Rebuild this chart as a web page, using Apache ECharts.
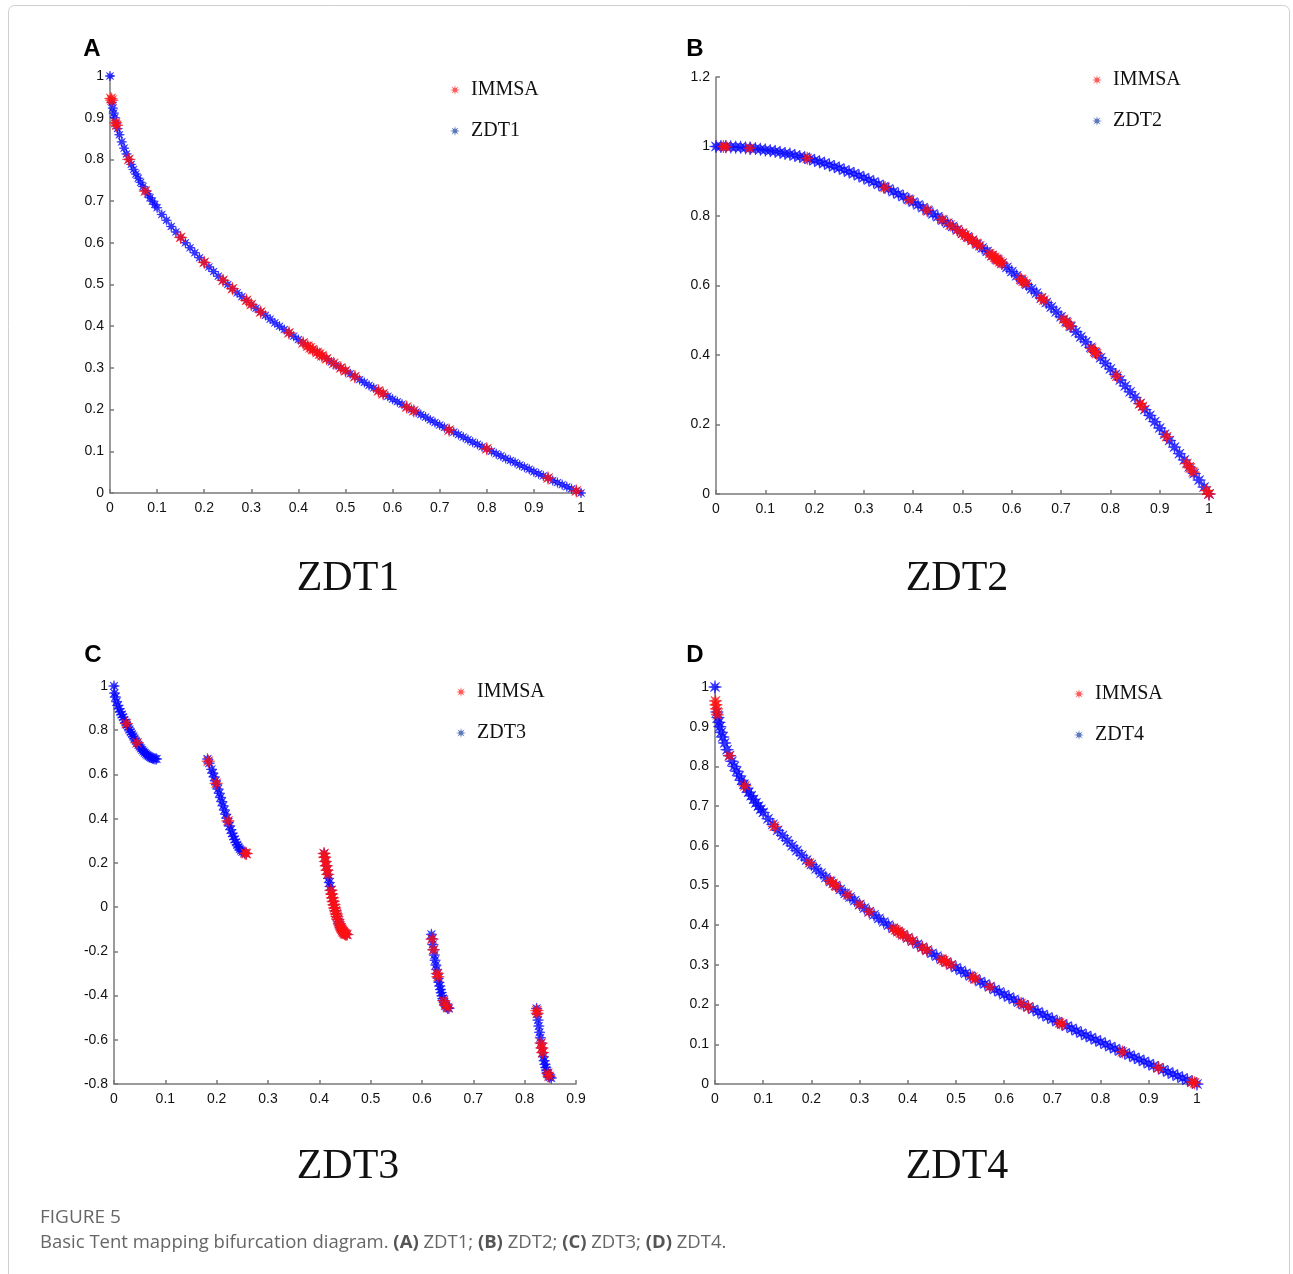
<!DOCTYPE html>
<html>
<head>
<meta charset="utf-8">
<script src="https://cdn.jsdelivr.net/npm/echarts@6/dist/echarts.min.js"></script>
<style>
html,body{margin:0;padding:0;background:#fff;}
#chart{width:1293px;height:1274px;}
</style>
</head>
<body>
<div id="chart"></div>
<script>
// ---------------- DATA ----------------
const panelLetters = ['A', 'B', 'C', 'D'];
const panelTitles = ['ZDT1', 'ZDT2', 'ZDT3', 'ZDT4'];
const legendNames = ['IMMSA', 'ZDT1', 'ZDT2', 'ZDT3', 'ZDT4'];
const captionTitle = 'FIGURE 5';

// x/y axis ranges and tick steps per panel
const xMax = [1, 1, 0.9, 1];
const yMin = [0, 0, -0.8, 0];
const yMax = [1, 1.2, 1, 1];
const yStep = [0.1, 0.2, 0.2, 0.1];

// ZDT1: true Pareto front (blue) and IMMSA solutions (red)
const zdt1Front = [[0,1],[0.004,0.937],[0.006,0.923],[0.008,0.911],[0.01,0.9],[0.013,0.886],[0.016,0.874],[0.02,0.859],[0.025,0.842],[0.03,0.827],[0.035,0.813],[0.04,0.8],[0.045,0.788],[0.05,0.776],[0.055,0.765],[0.06,0.755],[0.065,0.745],[0.07,0.735],[0.075,0.726],[0.08,0.717],[0.085,0.708],[0.09,0.7],[0.095,0.692],[0.1,0.684],[0.11,0.668],[0.12,0.654],[0.13,0.639],[0.14,0.626],[0.15,0.613],[0.16,0.6],[0.17,0.588],[0.18,0.576],[0.19,0.564],[0.2,0.553],[0.21,0.542],[0.22,0.531],[0.23,0.52],[0.24,0.51],[0.25,0.5],[0.26,0.49],[0.27,0.48],[0.28,0.471],[0.29,0.462],[0.3,0.452],[0.31,0.443],[0.32,0.434],[0.33,0.426],[0.34,0.417],[0.35,0.408],[0.36,0.4],[0.37,0.392],[0.38,0.384],[0.39,0.376],[0.4,0.368],[0.41,0.36],[0.42,0.352],[0.43,0.344],[0.44,0.337],[0.45,0.329],[0.46,0.322],[0.47,0.314],[0.48,0.307],[0.49,0.3],[0.5,0.293],[0.51,0.286],[0.52,0.279],[0.53,0.272],[0.54,0.265],[0.55,0.258],[0.56,0.252],[0.57,0.245],[0.58,0.238],[0.59,0.232],[0.6,0.225],[0.61,0.219],[0.62,0.213],[0.63,0.206],[0.64,0.2],[0.65,0.194],[0.66,0.188],[0.67,0.182],[0.68,0.175],[0.69,0.169],[0.7,0.163],[0.71,0.157],[0.72,0.151],[0.73,0.146],[0.74,0.14],[0.75,0.134],[0.76,0.128],[0.77,0.122],[0.78,0.117],[0.79,0.111],[0.8,0.106],[0.81,0.1],[0.82,0.094],[0.83,0.089],[0.84,0.083],[0.85,0.078],[0.86,0.073],[0.87,0.067],[0.88,0.062],[0.89,0.057],[0.9,0.051],[0.91,0.046],[0.92,0.041],[0.93,0.036],[0.94,0.03],[0.95,0.025],[0.96,0.02],[0.97,0.015],[0.98,0.01],[0.99,0.005],[1,0]];
const zdt1Immsa = [[0.002,0.946],[0.004,0.942],[0.012,0.888],[0.014,0.882],[0.04,0.8],[0.075,0.724],[0.15,0.613],[0.2,0.553],[0.24,0.51],[0.26,0.49],[0.29,0.462],[0.3,0.452],[0.32,0.434],[0.38,0.384],[0.41,0.36],[0.42,0.352],[0.425,0.348],[0.43,0.344],[0.44,0.337],[0.445,0.333],[0.45,0.329],[0.46,0.322],[0.475,0.311],[0.49,0.3],[0.5,0.293],[0.52,0.279],[0.57,0.245],[0.58,0.238],[0.63,0.206],[0.645,0.197],[0.72,0.151],[0.8,0.106],[0.93,0.036],[0.99,0.005]];

// ZDT2
const zdt2Front = [[0,1],[0.01,1],[0.02,1],[0.03,0.999],[0.04,0.998],[0.05,0.998],[0.06,0.996],[0.07,0.995],[0.08,0.994],[0.09,0.992],[0.1,0.99],[0.11,0.988],[0.12,0.986],[0.13,0.983],[0.14,0.98],[0.15,0.978],[0.16,0.974],[0.17,0.971],[0.18,0.968],[0.19,0.964],[0.2,0.96],[0.21,0.956],[0.22,0.952],[0.23,0.947],[0.24,0.942],[0.25,0.938],[0.26,0.932],[0.27,0.927],[0.28,0.922],[0.29,0.916],[0.3,0.91],[0.31,0.904],[0.32,0.898],[0.33,0.891],[0.34,0.884],[0.35,0.878],[0.36,0.87],[0.37,0.863],[0.38,0.856],[0.39,0.848],[0.4,0.84],[0.41,0.832],[0.42,0.824],[0.43,0.815],[0.44,0.806],[0.45,0.798],[0.46,0.788],[0.47,0.779],[0.48,0.77],[0.49,0.76],[0.5,0.75],[0.51,0.74],[0.52,0.73],[0.53,0.719],[0.54,0.708],[0.55,0.698],[0.56,0.686],[0.57,0.675],[0.58,0.664],[0.59,0.652],[0.6,0.64],[0.61,0.628],[0.62,0.616],[0.63,0.603],[0.64,0.59],[0.65,0.578],[0.66,0.564],[0.67,0.551],[0.68,0.538],[0.69,0.524],[0.7,0.51],[0.71,0.496],[0.72,0.482],[0.73,0.467],[0.74,0.452],[0.75,0.438],[0.76,0.422],[0.77,0.407],[0.78,0.392],[0.79,0.376],[0.8,0.36],[0.81,0.344],[0.82,0.328],[0.83,0.311],[0.84,0.294],[0.85,0.278],[0.86,0.26],[0.87,0.243],[0.88,0.226],[0.89,0.208],[0.9,0.19],[0.91,0.172],[0.92,0.154],[0.93,0.135],[0.94,0.116],[0.95,0.098],[0.96,0.078],[0.97,0.059],[0.98,0.04],[0.99,0.02],[1,0]];
const zdt2Immsa = [[0.015,1],[0.02,0.999],[0.068,0.995],[0.185,0.966],[0.343,0.882],[0.393,0.846],[0.428,0.817],[0.458,0.79],[0.475,0.774],[0.489,0.761],[0.5,0.75],[0.505,0.745],[0.512,0.738],[0.52,0.73],[0.528,0.721],[0.535,0.714],[0.555,0.692],[0.56,0.686],[0.565,0.681],[0.568,0.677],[0.572,0.673],[0.576,0.668],[0.58,0.664],[0.618,0.618],[0.623,0.612],[0.628,0.606],[0.66,0.564],[0.665,0.558],[0.705,0.503],[0.712,0.493],[0.718,0.484],[0.762,0.419],[0.768,0.41],[0.772,0.404],[0.813,0.339],[0.86,0.26],[0.865,0.252],[0.914,0.165],[0.955,0.088],[0.962,0.075],[0.968,0.063],[0.995,0.01],[1,0]];

// ZDT3 (five disconnected pieces)
const zdt3Front = [[0,1],[0.001,0.968],[0.0025,0.95],[0.005,0.929],[0.0075,0.912],[0.01,0.897],[0.0125,0.883],[0.015,0.871],[0.0175,0.859],[0.02,0.847],[0.0225,0.835],[0.025,0.824],[0.0275,0.813],[0.03,0.803],[0.0325,0.792],[0.035,0.782],[0.0375,0.772],[0.04,0.762],[0.0425,0.752],[0.045,0.743],[0.0475,0.734],[0.05,0.726],[0.0525,0.718],[0.055,0.711],[0.0575,0.704],[0.06,0.698],[0.0625,0.692],[0.065,0.687],[0.0675,0.683],[0.07,0.679],[0.0725,0.676],[0.075,0.673],[0.0775,0.671],[0.08,0.67],[0.083,0.67],
[0.1822,0.67],[0.1855,0.651],[0.19,0.623],[0.1925,0.606],[0.195,0.589],[0.1975,0.571],[0.2,0.553],[0.2025,0.534],[0.205,0.515],[0.2075,0.496],[0.21,0.477],[0.2125,0.458],[0.215,0.439],[0.2175,0.42],[0.22,0.402],[0.2225,0.384],[0.225,0.367],[0.2275,0.35],[0.23,0.334],[0.2325,0.32],[0.235,0.306],[0.2375,0.293],[0.24,0.282],[0.2425,0.272],[0.245,0.263],[0.2475,0.256],[0.25,0.25],[0.254,0.245],[0.2577,0.242],
[0.4093,0.2425],[0.4105,0.226],[0.412,0.206],[0.4135,0.187],[0.415,0.167],[0.4165,0.148],[0.418,0.13],[0.4195,0.111],[0.421,0.093],[0.4225,0.076],[0.424,0.059],[0.4255,0.042],[0.427,0.026],[0.4285,0.011],[0.43,-0.004],[0.4315,-0.017],[0.433,-0.031],[0.4345,-0.043],[0.436,-0.055],[0.4375,-0.066],[0.439,-0.076],[0.4405,-0.085],[0.442,-0.093],[0.4435,-0.1],[0.445,-0.107],[0.4465,-0.112],[0.448,-0.116],[0.4495,-0.12],[0.451,-0.122],[0.4538,-0.124],
[0.6183,-0.123],[0.6195,-0.143],[0.621,-0.169],[0.6225,-0.193],[0.624,-0.217],[0.6255,-0.24],[0.627,-0.262],[0.6285,-0.283],[0.63,-0.303],[0.6315,-0.322],[0.633,-0.34],[0.6345,-0.357],[0.636,-0.373],[0.6375,-0.387],[0.639,-0.401],[0.6405,-0.413],[0.642,-0.423],[0.6435,-0.432],[0.645,-0.44],[0.6465,-0.446],[0.648,-0.452],[0.65,-0.456],[0.6525,-0.458],
[0.8233,-0.458],[0.8245,-0.484],[0.826,-0.511],[0.8275,-0.538],[0.829,-0.566],[0.8305,-0.591],[0.832,-0.615],[0.8335,-0.637],[0.835,-0.658],[0.8365,-0.677],[0.838,-0.695],[0.8395,-0.711],[0.841,-0.725],[0.8425,-0.737],[0.844,-0.748],[0.8455,-0.756],[0.847,-0.764],[0.849,-0.769],[0.8518,-0.773]];
const zdt3Immsa = [[0.024,0.83],[0.045,0.743],[0.1835,0.66],[0.199,0.56],[0.222,0.39],[0.2555,0.244],[0.2577,0.242],
[0.4093,0.2425],[0.4105,0.226],[0.412,0.206],[0.4135,0.187],[0.415,0.167],[0.4165,0.148],[0.4225,0.076],[0.424,0.059],[0.4255,0.042],[0.427,0.026],[0.4285,0.011],[0.43,-0.004],[0.4315,-0.017],[0.433,-0.031],[0.4345,-0.043],[0.436,-0.055],[0.439,-0.076],[0.4405,-0.085],[0.442,-0.093],[0.4435,-0.1],[0.445,-0.107],[0.4465,-0.112],[0.448,-0.116],[0.4495,-0.12],[0.451,-0.122],[0.4538,-0.124],
[0.6195,-0.145],[0.6225,-0.193],[0.6297,-0.3],[0.631,-0.315],[0.642,-0.423],[0.646,-0.444],[0.65,-0.455],
[0.8238,-0.468],[0.8245,-0.48],[0.832,-0.615],[0.8335,-0.637],[0.835,-0.658],[0.845,-0.752],[0.8475,-0.765]];

// ZDT4
const zdt4Front = zdt1Front;
const zdt4Immsa = [[0.001,0.965],[0.002,0.955],[0.003,0.945],[0.005,0.93],[0.03,0.827],[0.062,0.751],[0.123,0.649],[0.196,0.557],[0.238,0.512],[0.245,0.505],[0.252,0.498],[0.275,0.476],[0.3,0.452],[0.32,0.434],[0.37,0.392],[0.375,0.388],[0.38,0.384],[0.385,0.38],[0.39,0.376],[0.4,0.368],[0.41,0.36],[0.43,0.344],[0.44,0.337],[0.47,0.314],[0.475,0.311],[0.48,0.307],[0.49,0.3],[0.535,0.269],[0.54,0.265],[0.57,0.245],[0.635,0.203],[0.65,0.194],[0.715,0.154],[0.72,0.151],[0.845,0.081],[0.92,0.041],[0.99,0.005],[0.995,0.003]];

const fronts = [zdt1Front, zdt2Front, zdt3Front, zdt4Front];
const immsa = [zdt1Immsa, zdt2Immsa, zdt3Immsa, zdt4Immsa];

// ---------------- LAYOUT / STYLE ----------------
const STAR = 'path://M10,0 L3.4,1.4 L7.07,7.07 L1.4,3.4 L0,10 L-1.4,3.4 L-7.07,7.07 L-3.4,1.4 L-10,0 L-3.4,-1.4 L-7.07,-7.07 L-1.4,-3.4 L0,-10 L1.4,-3.4 L7.07,-7.07 L3.4,-1.4 Z';
const grids = [
  {left: 110, top: 76, width: 471, height: 417},
  {left: 716, top: 77, width: 493, height: 417},
  {left: 114, top: 686, width: 462, height: 398},
  {left: 715, top: 687, width: 482, height: 397}
];
const legendPos = [{left: 445, top: 75}, {left: 1087, top: 65}, {left: 451, top: 677}, {left: 1069, top: 679}];
const blueSize = [10, 13, 11, 13];
const redSize = [13, 13, 13, 13];
const letterPos = [[92, 49], [695, 49], [93, 655], [695, 655]];
const titlePos = [[348, 579], [957, 579], [348, 1167], [957, 1167]];

const axisLineStyle = {color: '#7a7a7a', width: 1.5};
const labelStyle = {color: '#111', fontSize: 14, fontFamily: 'Liberation Sans, Arial, sans-serif'};

const xAxes = grids.map((g, i) => ({
  gridIndex: i, type: 'value', min: 0, max: xMax[i], interval: 0.1,
  axisLine: {show: true, onZero: false, lineStyle: axisLineStyle},
  axisTick: {show: true, inside: true, length: 4, lineStyle: axisLineStyle},
  axisLabel: Object.assign({margin: 8}, labelStyle),
  splitLine: {show: false}
}));
const yAxes = grids.map((g, i) => ({
  gridIndex: i, type: 'value', min: yMin[i], max: yMax[i], interval: yStep[i],
  axisLine: {show: true, onZero: false, lineStyle: axisLineStyle},
  axisTick: {show: true, inside: true, length: 4, lineStyle: axisLineStyle},
  axisLabel: Object.assign({margin: 6}, labelStyle),
  splitLine: {show: false}
}));

const series = [];
for (let i = 0; i < 4; i++) {
  series.push({
    type: 'scatter', name: panelTitles[i], xAxisIndex: i, yAxisIndex: i,
    data: fronts[i], symbol: STAR, symbolSize: blueSize[i],
    itemStyle: {color: '#0606ff', borderColor: '#0606ff', borderWidth: 0.6}, z: 2, silent: true
  });
  series.push({
    type: 'scatter', name: legendNames[0], xAxisIndex: i, yAxisIndex: i,
    data: immsa[i], symbol: STAR, symbolSize: redSize[i],
    itemStyle: {color: '#ff1010', borderColor: '#ff1010', borderWidth: 0.6}, z: 3, silent: true
  });
}

const legends = legendPos.map((p, i) => ({
  left: p.left, top: p.top, orient: 'vertical', itemGap: 21,
  icon: STAR, itemWidth: 10, itemHeight: 10,
  selectedMode: false,
  textStyle: {fontFamily: 'Liberation Serif, Times New Roman, serif', fontSize: 20, color: '#111', padding: [0, 0, 0, 6]},
  data: [
    {name: legendNames[0], itemStyle: {color: '#ff3030', borderWidth: 0}},
    {name: panelTitles[i], itemStyle: {color: '#2f55a8', borderWidth: 0}}
  ]
}));

const graphics = [
  {type: 'rect', silent: true, shape: {x: 8.5, y: 5.5, width: 1281, height: 1310, r: 6},
   style: {fill: 'none', stroke: '#cfcfcf', lineWidth: 1}}
];
panelLetters.forEach((t, i) => graphics.push({
  type: 'text', x: letterPos[i][0], y: letterPos[i][1],
  style: {text: t, fontSize: 24, fontWeight: 'bold', fontFamily: 'Liberation Sans, Arial, sans-serif',
          fill: '#000', align: 'center', verticalAlign: 'middle'}
}));
panelTitles.forEach((t, i) => graphics.push({
  type: 'text', x: titlePos[i][0], y: titlePos[i][1],
  style: {text: t, fontSize: 42, fontFamily: 'Liberation Serif, Times New Roman, serif',
          fill: '#111', align: 'center', verticalAlign: 'middle'}
}));
graphics.push({
  type: 'text', x: 40, y: 1218,
  style: {text: captionTitle, fontSize: 19, fontFamily: 'Open Sans, sans-serif', fill: '#666',
          align: 'left', verticalAlign: 'middle'}
});
graphics.push({
  type: 'text', x: 40, y: 1243,
  style: {
    text: '{n|Basic Tent mapping bifurcation diagram. }{b|(A)}{n| ZDT1; }{b|(B)}{n| ZDT2; }{b|(C)}{n| ZDT3; }{b|(D)}{n| ZDT4.}',
    align: 'left', verticalAlign: 'middle',
    rich: {
      n: {fontSize: 18.5, fontFamily: 'Open Sans, sans-serif', fill: '#666', color: '#666'},
      b: {fontSize: 18.5, fontFamily: 'Open Sans, sans-serif', fontWeight: 'bold', fill: '#555', color: '#555'}
    }
  }
});

const chart = echarts.init(document.getElementById('chart'), null, {renderer: 'canvas'});
chart.setOption({
  animation: false,
  backgroundColor: '#fff',
  grid: grids,
  xAxis: xAxes,
  yAxis: yAxes,
  legend: legends,
  series: series,
  graphic: graphics
});
</script>
</body>
</html>
